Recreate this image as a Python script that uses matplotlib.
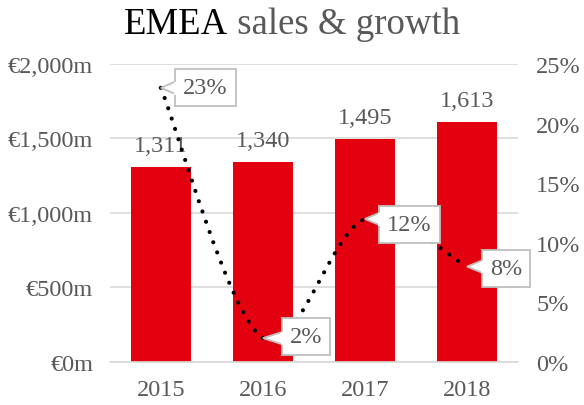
import matplotlib
matplotlib.use("Agg")
import matplotlib.pyplot as plt
from matplotlib.path import Path
from matplotlib.patches import PathPatch, Polygon
from matplotlib.lines import Line2D
from matplotlib.transforms import IdentityTransform
from matplotlib.ticker import FuncFormatter, MultipleLocator
import numpy as np

years = ["2015", "2016", "2017", "2018"]
sales_m = [1311, 1340, 1495, 1613]
growth_pct = [23, 2, 12, 8]
growth_offsets_pt = [(32, 0), (31, 1), (32, -4), (28, -1.5)]

RED = "#E3000F"
GREY = "#595959"
GRID = "#D9D9D9"
CALLOUT_EDGE = "#BFBFBF"
SERIF = "Liberation Serif"
FS = 17.5

plt.rcParams["font.family"] = [SERIF, "DejaVu Serif"]

fig = plt.figure(figsize=(5.84, 4.06), dpi=100)
ax = fig.add_axes([0.188, 0.106, 0.699, 0.734])
ax2 = ax.twinx()

x = np.arange(len(years))
ax.bar(x, sales_m, width=0.59, color=RED, zorder=2)
for xi, v in zip(x, sales_m):
    ax.annotate(f"{v:,}", (xi, v), xytext=(0, 8), textcoords="offset points",
                ha="center", va="bottom", fontsize=FS, color=GREY, zorder=3)

ax.set_xlim(-0.5, len(years) - 0.5)
ax.set_ylim(0, 2000)
ax.yaxis.set_major_locator(MultipleLocator(500))
ax.yaxis.set_major_formatter(FuncFormatter(lambda v, _: f"€{v:,.0f}m"))
ax.set_xticks(x, years)
ax.grid(axis="y", color=GRID, linewidth=1.2, zorder=0)
ax.set_axisbelow(True)
for s in ["top", "left", "right"]:
    ax.spines[s].set_visible(False)
ax.spines["bottom"].set_color(GRID)
ax.spines["bottom"].set_linewidth(1.2)
ax.tick_params(axis="both", length=0, labelsize=FS, labelcolor=GREY)
ax.tick_params(axis="y", pad=12)
ax.tick_params(axis="x", pad=12)

ax2.set_ylim(0, 25)
ax2.yaxis.set_major_locator(MultipleLocator(5))
ax2.yaxis.set_major_formatter(FuncFormatter(lambda v, _: f"{v:.0f}%"))
for s in ax2.spines.values():
    s.set_visible(False)
ax2.tick_params(axis="y", length=0, labelsize=FS, labelcolor=GREY, pad=13)

# Smoothed growth line: Catmull-Rom spline expressed as cubic Bezier segments
pts = np.column_stack([x, growth_pct]).astype(float)
ext = np.vstack([pts[0], pts, pts[-1]])
verts = [tuple(pts[0])]
codes = [Path.MOVETO]
for i in range(1, len(ext) - 2):
    p0, p1, p2, p3 = ext[i - 1], ext[i], ext[i + 1], ext[i + 2]
    c1 = p1 + (p2 - p0) / 6.0
    c2 = p2 - (p3 - p1) / 6.0
    verts += [tuple(c1), tuple(c2), tuple(p2)]
    codes += [Path.CURVE4] * 3
curve = PathPatch(Path(verts, codes), fill=False, edgecolor="black",
                  linewidth=3.0, linestyle=(0, (0.01, 2.6)), capstyle="round",
                  zorder=4)
ax2.add_patch(curve)

labels = []
for xi, g, off in zip(x, growth_pct, growth_offsets_pt):
    t = ax2.annotate(f"{g}%", (xi, g), xytext=off, textcoords="offset points",
                     ha="center", va="center", fontsize=FS, color=GREY, zorder=5,
                     bbox=dict(boxstyle="square,pad=0.33", fc="white",
                               ec=CALLOUT_EDGE, lw=1.3))
    labels.append((t, xi, g))

# Two-tone title, centred as one line
t1 = fig.text(0, 0.94, "EMEA", fontsize=26.5, color="black", va="center", ha="left")
t2 = fig.text(0, 0.94, " sales & growth", fontsize=26.5, color=GREY, va="center", ha="left")
fig.canvas.draw()
r = fig.canvas.get_renderer()
w1 = t1.get_window_extent(r).width
w2 = t2.get_window_extent(r).width
W = fig.bbox.width
start = (W - (w1 + w2)) / 2
t1.set_x(start / W)
t2.set_x((start + w1) / W)

# Callout pointers from each label box to its point on the line
fig.canvas.draw()
for t, xi, g in labels:
    bb = t.get_bbox_patch().get_window_extent(r)
    tip = ax2.transData.transform((xi, g))
    h = bb.height
    yc = float(np.clip(tip[1], bb.y0 + 0.28 * h, bb.y1 - 0.28 * h))
    half = 6.0
    tri = Polygon([(bb.x0, yc + half), tuple(tip), (bb.x0, yc - half)], closed=False,
                  fc="white", ec=CALLOUT_EDGE, lw=1.3, transform=IdentityTransform(),
                  zorder=6, joinstyle="miter")
    fig.add_artist(tri)
    gap = Line2D([bb.x0, bb.x0], [yc + half - 1.2, yc - half + 1.2], color="white",
                 lw=2.2, transform=IdentityTransform(), zorder=7)
    fig.add_artist(gap)

fig.savefig("out.png", dpi=100)
